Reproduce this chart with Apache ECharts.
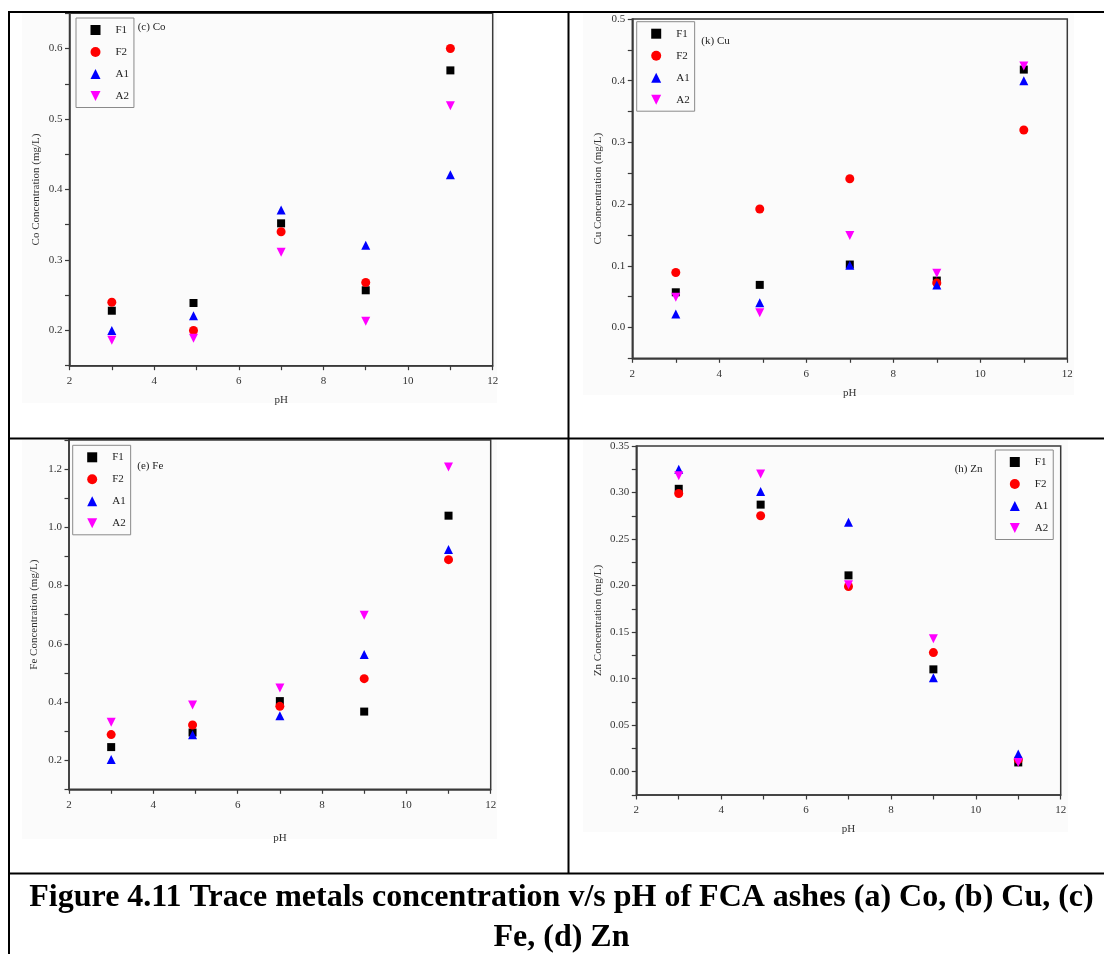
<!DOCTYPE html>
<html>
<head>
<meta charset="utf-8">
<script src="https://cdn.jsdelivr.net/npm/echarts@6/dist/echarts.min.js"></script>
<style>
html,body{margin:0;padding:0;background:#fff;}
#chart{width:1104px;height:954px;}
</style>
</head>
<body>
<div id="chart"></div>
<script>
// ---------- data ----------
const phValues = [3, 4.93, 7, 9, 11];
const seriesNames = ['F1', 'F2', 'A1', 'A2'];

const coF1 = [0.228, 0.239, 0.352, 0.257, 0.569];
const coF2 = [0.240, 0.200, 0.340, 0.268, 0.600];
const coA1 = [0.200, 0.221, 0.371, 0.321, 0.421];
const coA2 = [0.186, 0.189, 0.311, 0.213, 0.519];

const cuF1 = [0.057, 0.069, 0.102, 0.076, 0.418];
const cuF2 = [0.089, 0.192, 0.241, 0.072, 0.320];
const cuA1 = [0.022, 0.040, 0.101, 0.069, 0.400];
const cuA2 = [0.049, 0.024, 0.149, 0.088, 0.424];

const feF1 = [0.245, 0.295, 0.403, 0.367, 1.040];
const feF2 = [0.288, 0.321, 0.385, 0.480, 0.889];
const feA1 = [0.202, 0.287, 0.353, 0.563, 0.924];
const feA2 = [0.330, 0.390, 0.448, 0.698, 1.207];

const znF1 = [0.304, 0.287, 0.211, 0.110, 0.010];
const znF2 = [0.299, 0.275, 0.199, 0.128, 0.013];
const znA1 = [0.325, 0.301, 0.268, 0.101, 0.019];
const znA2 = [0.318, 0.320, 0.201, 0.143, 0.010];

const panelTags = ['(c) Co', '(k) Cu', '(e) Fe', '(h) Zn'];
const yAxisNames = ['Co Concentration (mg/L)', 'Cu Concentration (mg/L)', 'Fe Concentration (mg/L)', 'Zn Concentration (mg/L)'];
const xAxisName = 'pH';
// y axis ranges: [min, max, tick step, label step, decimals]
const yRanges = [
  [0.15, 0.65, 0.05, 0.1, 1],
  [-0.05, 0.5, 0.05, 0.1, 1],
  [0.1, 1.3, 0.1, 0.2, 1],
  [-0.025, 0.35, 0.025, 0.05, 2]
];
const xRange = [2, 12, 1, 2];
const captionLines = [
  'Figure 4.11 Trace metals concentration v/s pH of FCA ashes (a) Co, (b) Cu, (c)',
  'Fe, (d) Zn'
];

const panelValues = [
  [coF1, coF2, coA1, coA2],
  [cuF1, cuF2, cuA1, cuA2],
  [feF1, feF2, feA1, feA2],
  [znF1, znF2, znA1, znA2]
];

// ---------- layout / style ----------
const FONT = '"Liberation Serif", "Times New Roman", serif';
const grids = [
  {left: 69.5, top: 13.3, width: 423.2, height: 352.4},
  {left: 632.3, top: 19, width: 435, height: 339.3},
  {left: 69, top: 440, width: 421.7, height: 349.3},
  {left: 636.3, top: 446, width: 424.4, height: 349}
];
const xNameGaps = [29, 29, 43, 29];
const yNameGaps = [28, 29, 29, 33];
const legendPos = [[76, 18], [636.7, 21.7], [72.7, 445.3], [995.3, 450]];
const tagPos = [[137.7, 28.3], [701.3, 41.7], [137.3, 466.7], [954.7, 470.3]];
const bgRects = [[22, 13, 475, 390], [583, 13, 491, 382], [22, 440, 475, 399], [583, 440, 485, 392]];

const symbolStyles = {
  F1: {symbol: 'rect', size: 8, color: '#000000', rotate: 0, icon: 'rect'},
  F2: {symbol: 'circle', size: 9, color: '#ff0000', rotate: 0, icon: 'circle'},
  A1: {symbol: 'triangle', size: 9, color: '#0000ff', rotate: 0, icon: 'triangle'},
  A2: {symbol: 'triangle', size: 9, color: '#ff00ff', rotate: 180, icon: 'path://M0,0L10,0L5,10Z'}
};

const axisColor = '#3a3a3a';
const labelColor = '#333';
const FS = 11;

function isMultiple(v, step) {
  const r = v / step;
  return Math.abs(r - Math.round(r)) < 1e-6;
}

const xAxes = [], yAxes = [], series = [], legends = [], graphics = [];

grids.forEach((g, i) => {
  xAxes.push({
    type: 'value', gridIndex: i,
    min: xRange[0], max: xRange[1], interval: xRange[2],
    name: xAxisName, nameLocation: 'middle', nameGap: xNameGaps[i],
    nameTextStyle: {fontFamily: FONT, fontSize: FS, color: labelColor},
    axisLine: {show: true, onZero: false, lineStyle: {color: axisColor, width: 1.5}},
    axisTick: {show: true, inside: false, length: 4.5, lineStyle: {color: axisColor, width: 1.2}},
    axisLabel: {
      show: true, margin: 10, fontFamily: FONT, fontSize: FS, color: labelColor,
      showMinLabel: true, showMaxLabel: true, hideOverlap: false,
      formatter: v => isMultiple(v, xRange[3]) ? String(Math.round(v)) : ''
    },
    splitLine: {show: false}
  });
  const yr = yRanges[i];
  yAxes.push({
    type: 'value', gridIndex: i,
    min: yr[0], max: yr[1], interval: yr[2],
    name: yAxisNames[i], nameLocation: 'middle', nameGap: yNameGaps[i], nameRotate: 90,
    nameTextStyle: {fontFamily: FONT, fontSize: FS, color: labelColor},
    axisLine: {show: true, onZero: false, lineStyle: {color: axisColor, width: 1.5}},
    axisTick: {show: true, inside: false, length: 4.5, lineStyle: {color: axisColor, width: 1.2}},
    axisLabel: {
      show: true, margin: 7, fontFamily: FONT, fontSize: FS, color: labelColor,
      showMinLabel: true, showMaxLabel: true, hideOverlap: false,
      formatter: v => isMultiple(v, yr[3]) ? (Math.abs(v) < 1e-9 ? 0 : v).toFixed(yr[4]) : ''
    },
    splitLine: {show: false}
  });
  seriesNames.forEach((nm, k) => {
    const st = symbolStyles[nm];
    series.push({
      type: 'scatter', name: nm, xAxisIndex: i, yAxisIndex: i,
      symbol: st.symbol, symbolSize: st.size, symbolRotate: st.rotate,
      itemStyle: {color: st.color, opacity: 1},
      emphasis: {disabled: true},
      data: phValues.map((x, j) => [x, panelValues[i][k][j]])
    });
  });
  legends.push({
    show: true, left: legendPos[i][0], top: legendPos[i][1], orient: 'vertical',
    itemWidth: 10, itemHeight: 10, itemGap: 11,
    padding: [6.5, 5, 6, 14.5],
    borderColor: '#8a8a8a', borderWidth: 1, backgroundColor: 'transparent',
    selectedMode: false, symbolRotate: 0,
    textStyle: {fontFamily: FONT, fontSize: FS, color: '#222', padding: [5, 0, 0, 10]},
    data: seriesNames.map(n => ({name: n, icon: symbolStyles[n].icon, itemStyle: {color: symbolStyles[n].color}}))
  });
  graphics.push({
    type: 'text', left: tagPos[i][0], top: tagPos[i][1] - 6.5, z: 10,
    style: {text: panelTags[i], font: FS + 'px ' + FONT, fill: '#222'}
  });
  graphics.push({
    type: 'rect', z: -10, silent: true,
    shape: {x: bgRects[i][0], y: bgRects[i][1], width: bgRects[i][2], height: bgRects[i][3]},
    style: {fill: '#fbfbfb'}
  });
});

// table borders
const borderLines = [
  [8, 12, 1104, 12],
  [9, 11, 9, 954],
  [568.5, 12, 568.5, 873],
  [9, 438.5, 1104, 438.5],
  [9, 873.5, 1104, 873.5]
];
borderLines.forEach(l => graphics.push({
  type: 'line', z: 20, silent: true,
  shape: {x1: l[0], y1: l[1], x2: l[2], y2: l[3]},
  style: {stroke: '#000', lineWidth: 2}
}));

// caption
const captionY = [898, 938];
captionLines.forEach((t, i) => graphics.push({
  type: 'text', z: 20, x: 561.5, y: captionY[i],
  style: {text: t, font: 'bold 32px ' + FONT, fill: '#000', textAlign: 'center', textVerticalAlign: 'middle'}
}));

const chart = echarts.init(document.getElementById('chart'), null, {renderer: 'canvas'});
chart.setOption({
  animation: false,
  backgroundColor: '#ffffff',
  grid: grids.map(g => ({
    left: g.left, top: g.top, width: g.width, height: g.height,
    containLabel: false, show: true, borderColor: axisColor, borderWidth: 1.5, backgroundColor: 'transparent'
  })),
  xAxis: xAxes,
  yAxis: yAxes,
  legend: legends,
  series: series,
  graphic: graphics
});
</script>
</body>
</html>
